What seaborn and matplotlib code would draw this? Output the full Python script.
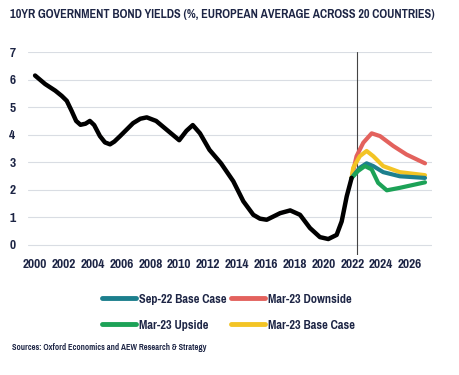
import matplotlib
matplotlib.use("Agg")
import matplotlib.pyplot as plt
import seaborn as sns
import pandas as pd
from matplotlib.lines import Line2D
from matplotlib import font_manager as fm

# ---- data ----
hist_years = [2000, 2000.7, 2001.4, 2001.85, 2002.2, 2002.54, 2002.85, 2003.15, 2003.5, 2003.8,
              2004.1, 2004.5, 2004.85, 2005.2, 2005.5, 2005.9, 2006.8, 2007.3, 2007.75, 2008.4,
              2009.36, 2010.0, 2010.5, 2010.94, 2011.44, 2012.1, 2012.9, 2013.75, 2014.45, 2015.14,
              2015.6, 2016.07, 2016.5, 2017.0, 2017.7, 2018.38, 2019.07, 2019.76, 2020.34, 2020.92,
              2021.27, 2021.62, 2021.96]
hist_vals = [6.15, 5.84, 5.6, 5.41, 5.23, 4.86, 4.5, 4.36, 4.4, 4.5,
             4.35, 3.95, 3.72, 3.65, 3.75, 3.95, 4.42, 4.58, 4.63, 4.5,
             4.08, 3.8, 4.14, 4.35, 4.05, 3.45, 2.96, 2.31, 1.58, 1.09,
             0.95, 0.91, 1.02, 1.15, 1.25, 1.09, 0.61, 0.28, 0.21, 0.36,
             0.85, 1.76, 2.43]

down_years = [2021.96, 2022.3, 2022.77, 2023.35, 2023.93, 2024.85, 2025.77, 2027.05]
down_vals = [2.43, 3.22, 3.71, 4.05, 3.95, 3.59, 3.28, 2.96]
base23_years = [2021.96, 2022.07, 2022.53, 2023.0, 2023.46, 2024.15, 2025.3, 2027.05]
base23_vals = [2.43, 2.8, 3.22, 3.41, 3.22, 2.86, 2.64, 2.53]
base22_years = [2021.96, 2022.53, 2023.0, 2023.46, 2024.15, 2025.3, 2027.05]
base22_vals = [2.43, 2.8, 2.96, 2.86, 2.64, 2.49, 2.43]
up_years = [2021.96, 2022.4, 2022.88, 2023.35, 2023.8, 2024.4, 2025.3, 2027.05]
up_vals = [2.43, 2.68, 2.86, 2.74, 2.25, 1.98, 2.07, 2.27]

series_names = ["Sep-22 Base Case", "Mar-23 Upside", "Mar-23 Downside", "Mar-23 Base Case"]
colors = {"Sep-22 Base Case": "#1c7f8d", "Mar-23 Upside": "#1ca257",
          "Mar-23 Downside": "#e3625d", "Mar-23 Base Case": "#f3c425"}
xticks = list(range(2000, 2027, 2))
yticks = list(range(0, 8))
title = "10YR GOVERNMENT BOND YIELDS (%, EUROPEAN AVERAGE ACROSS 20 COUNTRIES)"
source = "Sources: Oxford Economics and AEW Research & Strategy"
forecast_start = 2022.33

sns.set_theme(style="white")
plt.rcParams['font.family'] = ['DejaVu Sans']
navy = "#1d2545"


# ---- find a bold condensed font file ----
def find_condensed():
    files = [f.fname for f in fm.fontManager.ttflist]
    prefs = ["sansnarrow-bold", "narrow-bold", "robotocondensed-bold", "condensed-bold",
             "condensedbold", "condensed_bold", "sanscondensed-bold"]
    low = [(p.lower().replace(" ", ""), p) for p in files]
    for key in prefs:
        for l, p in low:
            base = l.rsplit("/", 1)[-1]
            if key in base and "italic" not in base and "oblique" not in base:
                return p
    return None


cond_file = find_condensed()


def fp(size):
    if cond_file:
        return fm.FontProperties(fname=cond_file, size=size)
    return fm.FontProperties(family="DejaVu Sans", weight="bold", size=size)


fig = plt.figure(figsize=(4.59, 3.75), dpi=100)
renderer = fig.canvas.get_renderer()


def fit_size(text, target_px, start=10.0):
    t = fig.text(0, 0, text, fontproperties=fp(start))
    w = t.get_window_extent(renderer).width
    t.remove()
    return start * target_px / w


ax = fig.add_axes([0.061, 0.32, 0.88, 0.541])

frames = {
    "Mar-23 Downside": (down_years, down_vals),
    "Mar-23 Base Case": (base23_years, base23_vals),
    "Sep-22 Base Case": (base22_years, base22_vals),
    "Mar-23 Upside": (up_years, up_vals),
}
for i, (name, (xs, ys)) in enumerate(frames.items()):
    df = pd.DataFrame({"year": xs, "value": ys})
    sns.lineplot(data=df, x="year", y="value", ax=ax, color=colors[name], lw=3.0,
                 sort=False, estimator=None, zorder=3 + i,
                 solid_joinstyle="round", solid_capstyle="round")

dfh = pd.DataFrame({"year": hist_years, "value": hist_vals})
sns.lineplot(data=dfh, x="year", y="value", ax=ax, color="black", lw=3.2,
             sort=False, estimator=None, zorder=8,
             solid_joinstyle="round", solid_capstyle="round")

ax.axvline(forecast_start, color="#444444", lw=0.8, zorder=2)

ax.set_xlim(1999.51, 2027.53)
ax.set_ylim(-0.37, 7)
ax.set_yticks(yticks)
ax.set_xticks(xticks)
ax.yaxis.grid(True, color="#d9dde3", lw=0.8)
ax.xaxis.grid(False)
for s in ax.spines.values():
    s.set_visible(False)
ax.set_xlabel("")
ax.set_ylabel("")
ax.tick_params(axis="both", length=0, colors=navy)
ax.tick_params(axis="y", pad=9)
ax.tick_params(axis="x", pad=3)

tick_size = min(fit_size("2000", 25.5), 10.5)
ax.set_xticklabels([str(v) for v in xticks])
ax.set_yticklabels([str(v) for v in yticks])
for lab in ax.get_xticklabels() + ax.get_yticklabels():
    lab.set_fontproperties(fp(tick_size))
    lab.set_color(navy)

title_size = fit_size(title, 423)
fig.text(0.022, 0.962, title, fontproperties=fp(title_size), color=navy, va="center", ha="left")
src_size = fit_size(source, 194)
fig.text(0.026, 0.072, source, fontproperties=fp(src_size), color=navy, va="center", ha="left")

leg_size = min(fit_size("Sep-22 Base Case", 87), 11)
leg_px = leg_size * 100 / 72
handles = [Line2D([0], [0], color=colors[n], lw=3.5, solid_capstyle="round") for n in series_names]
leg = fig.legend(handles, series_names, ncol=2, loc="center", bbox_to_anchor=(0.498, 0.168),
                 frameon=False, prop=fp(leg_size), handlelength=34 / leg_px,
                 handletextpad=3 / leg_px, columnspacing=4 / leg_px,
                 labelspacing=(28 - leg_px) / leg_px)
for t in leg.get_texts():
    t.set_color(navy)

fig.savefig("out.png", dpi=100)
